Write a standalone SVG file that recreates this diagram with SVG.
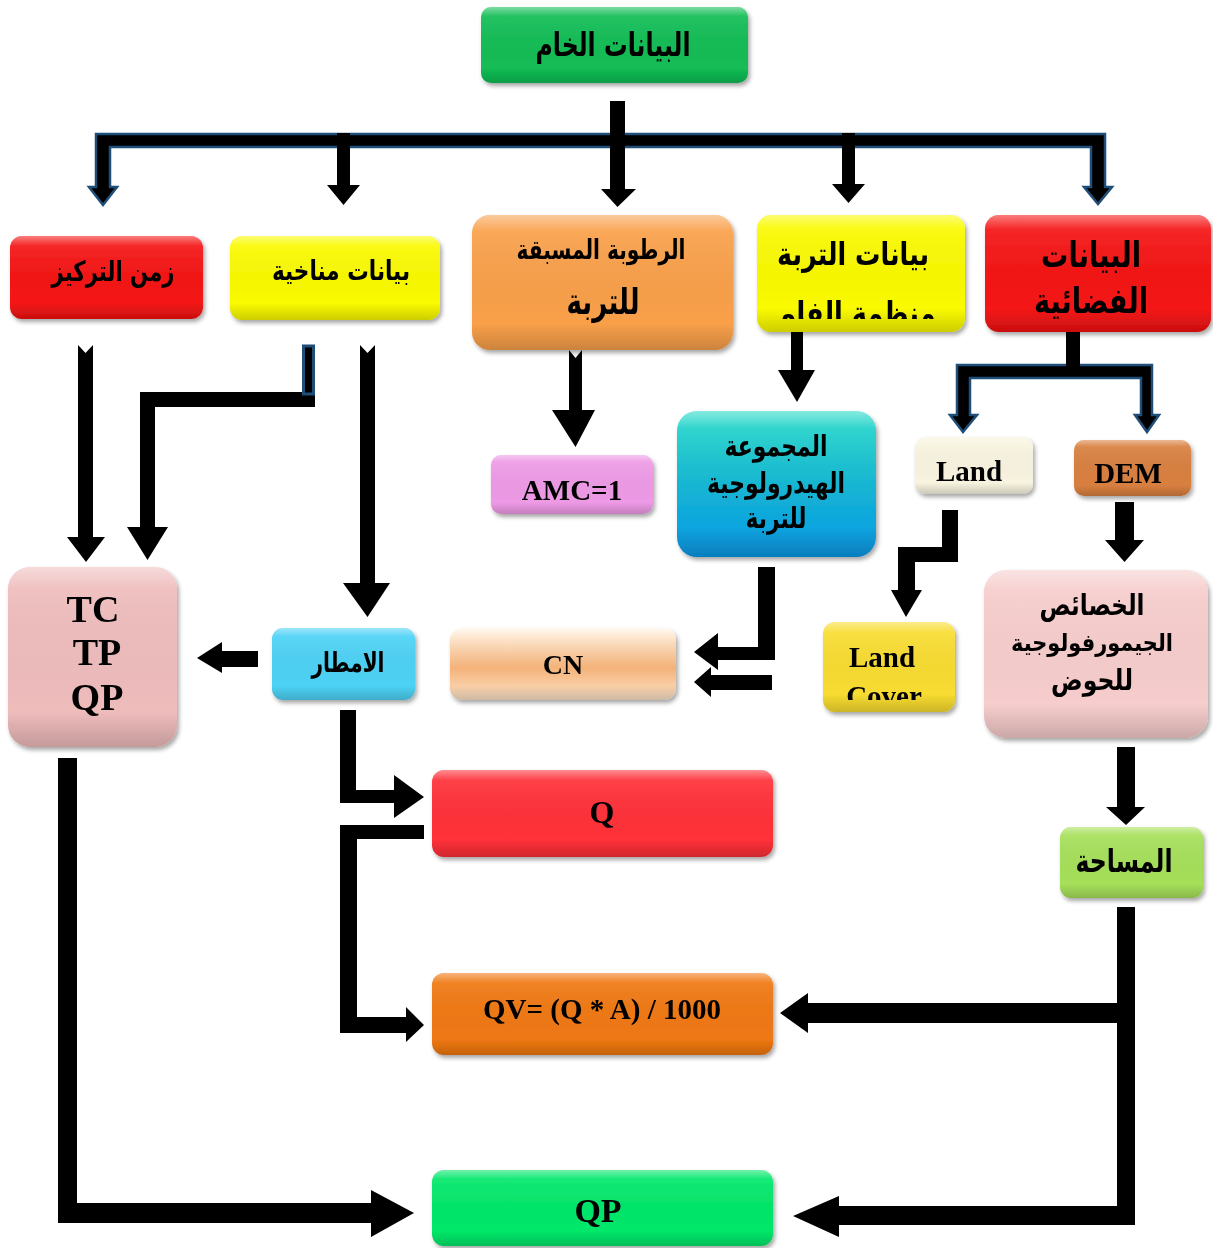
<svg xmlns="http://www.w3.org/2000/svg" width="1213" height="1248" viewBox="0 0 1213 1248">
<defs>
<style>
.ar{font-family:"DejaVu Sans","Noto Sans",sans-serif;font-weight:bold;fill:#000;text-anchor:middle}
.en{font-family:"Liberation Serif","Times New Roman",serif;font-weight:bold;fill:#000;text-anchor:middle}
.arr{fill:#000}
.blu{fill:#000;stroke:#1f4e79;stroke-width:2.5;stroke-linejoin:miter}
.box{filter:url(#sh)}
.gl{fill:url(#gloss)}
</style>
<filter id="sh" x="-10%" y="-10%" width="130%" height="140%">
<feDropShadow dx="2" dy="3" stdDeviation="2" flood-color="#000" flood-opacity="0.35"/>
</filter>
<linearGradient id="gloss" x1="0" y1="0" x2="0" y2="1">
<stop offset="0" stop-color="#fff" stop-opacity="0.45"/>
<stop offset="0.12" stop-color="#fff" stop-opacity="0.08"/>
<stop offset="0.8" stop-color="#000" stop-opacity="0"/>
<stop offset="1" stop-color="#000" stop-opacity="0.18"/>
</linearGradient>
<linearGradient id="hydro" x1="0" y1="0" x2="0" y2="1">
<stop offset="0" stop-color="#22d9c6"/>
<stop offset="1" stop-color="#0798e6"/>
</linearGradient>
<linearGradient id="cn" x1="0" y1="0" x2="0" y2="1">
<stop offset="0" stop-color="#fff4e4"/>
<stop offset="0.55" stop-color="#f9b57a"/>
<stop offset="1" stop-color="#fbe2c8"/>
</linearGradient>
<clipPath id="c1"><rect x="757" y="215" width="208" height="104"/></clipPath>
<clipPath id="c2"><rect x="823" y="622" width="132" height="78"/></clipPath>
</defs>

<g id="connectors">
<polygon class="arr" points="610,101 625,101 625,189 636,189 617.5,207 601,189 610,189"/>
<polygon class="blu" points="96,134 1105,134 1105,187 1112,187 1098,204 1084,187 1091,187 1091,147 110,147 110,187 117,187 103,205 89,187 96,187"/>
<polygon class="arr" points="610,128 625,128 625,150 610,150"/>
<polygon class="arr" points="337,133 350,133 350,185 360,185 343.5,205 327,185 337,185"/>
<polygon class="arr" points="842,133 855,133 855,184 865,184 848.5,203 832,184 842,184"/>
<polygon class="blu" points="957,365 1152,365 1152,415 1159,415 1147,432 1135,415 1141,415 1141,378 970,378 970,415 977,415 963,432 950,415 957,415"/>
<rect class="arr" x="1066" y="332" width="14" height="44"/>
<polygon class="arr" points="569,350 575.5,358 582,350 582,410 595,410 575.5,447 552,410 569,410"/>
<polygon class="arr" points="791,332 803,332 803,370 815,370 797,402 778,370 791,370"/>
<polygon class="arr" points="942,510 958,510 958,562 915,562 915,590 922,590 906,617 891,590 898,590 898,547 942,547"/>
<polygon class="arr" points="1115,502 1134,502 1134,540 1144,540 1124.5,562 1105,540 1115,540"/>
<polygon class="arr" points="758,567 775,567 775,660 718,660 718,670 694,652 718,633 718,647 758,647"/>
<polygon class="arr" points="772,675 772,690 711,690 711,697 694,682 711,667 711,675"/>
<polygon class="arr" points="78,345 85.5,353 93,345 93,537 105,537 86,562 67,537 78,537"/>
<polygon class="arr" points="302,392 302,345 315,345 315,407 155,407 155,527 168,527 147.5,560 127,527 140,527 140,392"/>
<rect x="303.5" y="346" width="10" height="48" fill="#000" stroke="#1f4e79" stroke-width="3"/>
<polygon class="arr" points="360,345 367.5,353 375,345 375,583 390,583 367.5,617 343,583 360,583"/>
<polygon class="arr" points="258,651 258,667 222,667 222,673 197,658 222,642 222,651"/>
<polygon class="arr" points="340,710 356,710 356,790 394,790 394,775 424,797 394,818 394,803 340,803"/>
<polygon class="arr" points="424,825 424,839 357,839 357,1017 406,1017 406,1007 424,1025 406,1042 406,1033 340,1033 340,825"/>
<polygon class="arr" points="58,758 77,758 77,1203 371,1203 371,1190 414,1213 371,1237 371,1223 58,1223"/>
<polygon class="arr" points="1117,747 1135,747 1135,807 1145,807 1126,825 1106,807 1117,807"/>
<polygon class="arr" points="1117,907 1135,907 1135,1225 839,1225 839,1237 793,1216 839,1196 839,1206 1117,1206 1117,1023 808,1023 808,1033 780,1013 808,993 808,1003 1117,1003"/>
</g>

<g id="n-raw" class="box">
<rect x="481" y="7" width="267" height="76" rx="10" fill="#12bd55"/>
<rect x="481" y="7" width="267" height="76" rx="10" class="gl"/>
<text class="ar" x="613" y="56" font-size="33" textLength="155" lengthAdjust="spacingAndGlyphs">البيانات الخام</text>
</g>

<g id="n-tc-time" class="box">
<rect x="10" y="236" width="193" height="83" rx="12" fill="#f51414"/>
<rect x="10" y="236" width="193" height="83" rx="12" class="gl"/>
<text class="ar" x="113" y="281" font-size="28" textLength="123" lengthAdjust="spacingAndGlyphs">زمن التركيز</text>
</g>

<g id="n-climate" class="box">
<rect x="230" y="236" width="210" height="84" rx="12" fill="#fafa00"/>
<rect x="230" y="236" width="210" height="84" rx="12" class="gl"/>
<text class="ar" x="341" y="280" font-size="27" textLength="138" lengthAdjust="spacingAndGlyphs">بيانات مناخية</text>
</g>

<g id="n-moisture" class="box">
<rect x="472" y="215" width="261" height="135" rx="18" fill="#f9a04a"/>
<rect x="472" y="215" width="261" height="135" rx="18" class="gl"/>
<text class="ar" x="601" y="259" font-size="27" textLength="169" lengthAdjust="spacingAndGlyphs">الرطوبة المسبقة</text>
<text class="ar" x="603" y="314" font-size="36" textLength="73" lengthAdjust="spacingAndGlyphs">للتربة</text>
</g>

<g id="n-soil" class="box">
<rect x="757" y="215" width="208" height="117" rx="14" fill="#fafa00"/>
<rect x="757" y="215" width="208" height="117" rx="14" class="gl"/>
<text class="ar" x="853" y="265" font-size="32" textLength="152" lengthAdjust="spacingAndGlyphs">بيانات التربة</text>
<text class="ar" x="858" y="324" font-size="32" textLength="155" lengthAdjust="spacingAndGlyphs" clip-path="url(#c1)">منظمة الفاو</text>
</g>

<g id="n-space" class="box">
<rect x="985" y="215" width="226" height="117" rx="14" fill="#f51414"/>
<rect x="985" y="215" width="226" height="117" rx="14" class="gl"/>
<text class="ar" x="1091" y="267" font-size="35" textLength="100" lengthAdjust="spacingAndGlyphs">البيانات</text>
<text class="ar" x="1091" y="313" font-size="35" textLength="114" lengthAdjust="spacingAndGlyphs">الفضائية</text>
</g>

<g id="n-amc" class="box">
<rect x="491" y="455" width="162" height="59" rx="10" fill="#ee9ae6"/>
<rect x="491" y="455" width="162" height="59" rx="10" class="gl"/>
<text class="en" x="572" y="500" font-size="29">AMC=1</text>
</g>

<g id="n-hydro" class="box">
<rect x="677" y="411" width="199" height="146" rx="20" fill="url(#hydro)"/>
<rect x="677" y="411" width="199" height="146" rx="20" class="gl"/>
<text class="ar" x="776" y="456" font-size="29" textLength="103" lengthAdjust="spacingAndGlyphs">المجموعة</text>
<text class="ar" x="776" y="493" font-size="29" textLength="138" lengthAdjust="spacingAndGlyphs">الهيدرولوجية</text>
<text class="ar" x="776" y="528" font-size="29" textLength="61" lengthAdjust="spacingAndGlyphs">للتربة</text>
</g>

<g id="n-land" class="box">
<rect x="915" y="437" width="118" height="57" rx="10" fill="#f8f4e0"/>
<rect x="915" y="437" width="118" height="57" rx="10" class="gl"/>
<text class="en" x="969" y="481" font-size="29">Land</text>
</g>

<g id="n-dem" class="box">
<rect x="1074" y="440" width="117" height="56" rx="10" fill="#d98040"/>
<rect x="1074" y="440" width="117" height="56" rx="10" class="gl"/>
<text class="en" x="1128" y="483" font-size="29">DEM</text>
</g>

<g id="n-tc" class="box">
<rect x="8" y="567" width="169" height="180" rx="22" fill="#efbcbc"/>
<rect x="8" y="567" width="169" height="180" rx="22" class="gl"/>
<text class="en" x="93" y="622" font-size="38">TC</text>
<text class="en" x="97" y="665" font-size="38">TP</text>
<text class="en" x="97" y="710" font-size="38">QP</text>
</g>

<g id="n-rain" class="box">
<rect x="272" y="628" width="143" height="72" rx="11" fill="#4dd2f5"/>
<rect x="272" y="628" width="143" height="72" rx="11" class="gl"/>
<text class="ar" x="348" y="672" font-size="28" textLength="73" lengthAdjust="spacingAndGlyphs">الامطار</text>
</g>

<g id="n-cn" class="box">
<rect x="450" y="628" width="226" height="72" rx="12" fill="url(#cn)"/>
<rect x="450" y="628" width="226" height="72" rx="12" class="gl"/>
<text class="en" x="563" y="674" font-size="28">CN</text>
</g>

<g id="n-landcover" class="box">
<rect x="823" y="622" width="132" height="90" rx="12" fill="#f8dc30"/>
<rect x="823" y="622" width="132" height="90" rx="12" class="gl"/>
<text class="en" x="882" y="667" font-size="29">Land</text>
<text class="en" x="884" y="706" font-size="29" clip-path="url(#c2)">Cover</text>
</g>

<g id="n-geomorph" class="box">
<rect x="984" y="570" width="224" height="168" rx="22" fill="#f6cdcc"/>
<rect x="984" y="570" width="224" height="168" rx="22" class="gl"/>
<text class="ar" x="1092" y="615" font-size="29" textLength="105" lengthAdjust="spacingAndGlyphs">الخصائص</text>
<text class="ar" x="1092" y="651" font-size="24" textLength="162" lengthAdjust="spacingAndGlyphs">الجيمورفولوجية</text>
<text class="ar" x="1092" y="690" font-size="29" textLength="82" lengthAdjust="spacingAndGlyphs">للحوض</text>
</g>

<g id="n-q" class="box">
<rect x="432" y="770" width="341" height="87" rx="12" fill="#ff3038"/>
<rect x="432" y="770" width="341" height="87" rx="12" class="gl"/>
<text class="en" x="602" y="823" font-size="32">Q</text>
</g>

<g id="n-area" class="box">
<rect x="1060" y="827" width="143" height="71" rx="11" fill="#a6e05a"/>
<rect x="1060" y="827" width="143" height="71" rx="11" class="gl"/>
<text class="ar" x="1124" y="872" font-size="32" textLength="97" lengthAdjust="spacingAndGlyphs">المساحة</text>
</g>

<g id="n-qv" class="box">
<rect x="432" y="973" width="341" height="82" rx="12" fill="#f07812"/>
<rect x="432" y="973" width="341" height="82" rx="12" class="gl"/>
<text class="en" x="602" y="1019" font-size="29">QV= (Q * A) / 1000</text>
</g>

<g id="n-qp" class="box">
<rect x="432" y="1170" width="341" height="76" rx="12" fill="#00e86a"/>
<rect x="432" y="1170" width="341" height="76" rx="12" class="gl"/>
<text class="en" x="598" y="1222" font-size="34">QP</text>
</g>
</svg>
